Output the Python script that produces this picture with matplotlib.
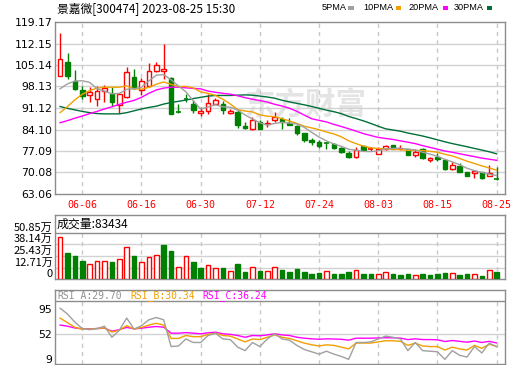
import matplotlib
matplotlib.use('Agg')
import matplotlib.pyplot as plt
from matplotlib.patches import Rectangle

# ---------------- data ----------------
dates = ['06-01', '06-02', '06-05', '06-06', '06-07', '06-08', '06-09', '06-12', '06-13', '06-14',
         '06-15', '06-16', '06-19', '06-20', '06-21', '06-26', '06-27', '06-28', '06-29', '06-30',
         '07-03', '07-04', '07-05', '07-06', '07-07', '07-10', '07-11', '07-12', '07-13', '07-14',
         '07-17', '07-18', '07-19', '07-20', '07-21', '07-24', '07-25', '07-26', '07-27', '07-28',
         '07-31', '08-01', '08-02', '08-03', '08-04', '08-07', '08-08', '08-09', '08-10', '08-11',
         '08-14', '08-15', '08-16', '08-17', '08-18', '08-21', '08-22', '08-23', '08-24', '08-25']
tick_dates = ['06-06', '06-16', '06-30', '07-12', '07-24', '08-03', '08-15', '08-25']

opens = [101.45, 106.22, 100.05, 97.10, 95.40, 93.90, 96.50, 95.74, 91.94, 94.86,
         101.35, 97.10, 98.43, 103.30, 103.30, 100.93, 90.00, 94.30, 92.50, 89.44,
         90.09, 92.50, 92.50, 89.44, 89.77, 85.35, 84.38, 86.52, 85.75, 87.30,
         87.60, 86.30, 85.22, 82.95, 80.58, 80.03, 79.83, 79.50, 78.08, 76.59,
         75.16, 78.73, 77.57, 76.27, 77.66, 78.96, 77.57, 77.66, 75.71, 77.66,
         73.99, 75.16, 74.09, 71.17, 72.24, 70.10, 69.87, 70.10, 69.00, 68.00]
highs = [115.53, 109.04, 103.60, 98.40, 97.90, 98.40, 98.66, 97.90, 95.90, 104.37,
         103.85, 100.80, 105.80, 106.20, 112.15, 101.35, 92.50, 95.74, 93.57, 91.40,
         95.74, 94.44, 93.34, 90.87, 90.32, 86.52, 88.14, 87.07, 87.07, 89.77,
         88.14, 87.80, 85.68, 83.08, 81.33, 80.58, 80.03, 79.83, 78.41, 77.01,
         78.41, 78.96, 78.41, 78.41, 79.19, 79.19, 78.96, 77.89, 77.66, 78.08,
         75.16, 76.59, 74.64, 73.54, 73.02, 70.20, 70.60, 70.20, 72.47, 71.72]
lows = [101.45, 100.60, 97.10, 94.10, 93.00, 91.90, 93.20, 91.90, 89.44, 94.30,
        97.36, 95.20, 97.90, 102.75, 100.60, 89.25, 89.44, 93.00, 89.44, 88.37,
        89.25, 92.27, 89.25, 89.00, 84.70, 84.38, 84.06, 84.20, 84.90, 86.52,
        84.38, 85.45, 82.43, 80.03, 79.19, 78.08, 77.89, 77.66, 76.59, 74.84,
        74.84, 77.20, 77.01, 76.10, 77.34, 77.66, 77.34, 75.71, 75.16, 74.64,
        73.54, 73.77, 71.00, 70.85, 70.10, 68.90, 68.35, 68.00, 68.90, 67.60]
closes = [107.09, 101.45, 97.36, 95.10, 96.25, 96.80, 97.55, 93.00, 95.74, 102.97,
          97.68, 100.05, 103.30, 105.15, 103.85, 89.25, 89.80, 94.00, 90.55, 90.09,
          92.69, 93.57, 90.55, 89.99, 85.45, 84.58, 87.07, 84.38, 86.16, 88.14,
          86.52, 85.70, 83.08, 80.58, 80.03, 78.73, 79.50, 78.08, 76.79, 75.16,
          77.34, 77.34, 77.89, 77.89, 78.63, 77.89, 77.89, 75.94, 76.79, 74.84,
          74.84, 74.32, 71.17, 72.47, 70.30, 68.99, 70.52, 68.15, 69.78, 67.90]

ma5 = [97.40, 99.00, 99.90, 100.00, 99.45, 97.39, 96.61, 95.74, 95.87, 97.21,
       97.39, 97.89, 99.95, 101.83, 102.01, 100.32, 98.27, 96.41, 93.49, 90.74,
       91.43, 92.18, 91.49, 91.38, 90.45, 88.83, 87.53, 86.29, 85.53, 86.07,
       86.45, 86.18, 85.92, 84.80, 83.18, 81.62, 80.38, 79.38, 78.63, 77.65,
       77.37, 76.94, 76.90, 77.12, 77.82, 77.93, 78.04, 77.65, 77.43, 76.67,
       76.06, 75.35, 74.39, 73.53, 72.62, 71.45, 70.69, 70.09, 69.55, 69.07]
ma10 = [89.60, 91.60, 93.80, 95.60, 96.80, 97.60, 97.90, 97.90, 97.90, 98.33,
        97.39, 97.25, 97.84, 98.85, 99.61, 98.85, 98.08, 98.18, 97.66, 96.37,
        95.87, 95.23, 93.95, 92.43, 90.59, 90.13, 89.85, 88.89, 88.45, 88.26,
        87.64, 86.85, 86.11, 85.17, 84.62, 84.04, 83.28, 82.65, 81.72, 80.42,
        79.50, 78.66, 78.14, 77.88, 77.74, 77.65, 77.49, 77.28, 77.28, 77.24,
        76.99, 76.69, 76.02, 75.48, 74.65, 73.76, 73.02, 72.24, 71.54, 70.84]
ma20 = [86.30, 87.00, 87.80, 88.50, 89.30, 90.00, 90.80, 91.50, 92.30, 93.00,
        93.60, 94.60, 95.90, 97.00, 97.60, 97.90, 97.90, 97.70, 97.50, 97.35,
        96.63, 96.24, 95.90, 95.64, 95.10, 94.49, 93.97, 93.54, 93.06, 92.32,
        91.76, 91.04, 90.03, 88.80, 87.61, 87.08, 86.57, 85.77, 85.08, 84.34,
        83.57, 82.76, 82.13, 81.52, 81.18, 80.85, 80.39, 79.96, 79.50, 78.83,
        78.25, 77.68, 77.08, 76.68, 76.19, 75.70, 75.25, 74.76, 74.41, 74.04]
ma30 = [91.60, 91.00, 90.50, 90.00, 89.60, 89.30, 89.20, 89.20, 89.20, 89.60,
        90.20, 90.80, 91.30, 91.70, 92.40, 92.90, 93.30, 93.70, 94.20, 94.60,
        95.00, 95.20, 95.20, 95.20, 95.30, 95.40, 95.30, 95.00, 94.70, 94.32,
        93.63, 93.11, 92.63, 92.15, 91.61, 91.01, 90.41, 89.91, 89.28, 88.35,
        87.67, 86.91, 86.07, 85.16, 84.32, 83.94, 83.54, 82.94, 82.48, 81.97,
        81.38, 80.74, 80.09, 79.51, 79.00, 78.48, 77.93, 77.39, 76.84, 76.17]

# volume in units of 万 (10k)
volumes = [45.8, 29.1, 25.5, 20.0, 16.7, 20.0, 20.0, 18.9, 22.2, 35.3,
           25.5, 18.6, 24.0, 26.6, 37.5, 30.9, 13.1, 25.5, 18.9, 12.4,
           15.6, 12.0, 12.4, 9.1, 16.7, 8.0, 13.8, 9.1, 8.7, 13.1,
           10.2, 8.0, 11.3, 8.0, 5.8, 6.9, 8.7, 5.8, 5.8, 8.0,
           9.8, 5.8, 5.8, 5.8, 8.0, 5.8, 4.7, 5.8, 4.4, 5.8,
           4.7, 5.8, 6.9, 6.5, 4.7, 5.8, 5.8, 3.6, 9.8, 8.3434]
vol_up = [1, 0, 0, 0, 1, 1, 1, 0, 1, 1,
          0, 1, 1, 1, 0, 0, 1, 1, 0, 0,
          1, 1, 0, 1, 0, 0, 1, 0, 1, 1,
          0, 0, 0, 0, 0, 0, 1, 0, 0, 0,
          1, 0, 0, 1, 1, 0, 0, 0, 1, 0,
          0, 0, 0, 1, 0, 0, 1, 0, 1, 0]

rsi_a = [96, 86, 72, 61, 59, 61, 65, 46, 58, 79,
         60, 66, 76, 80, 76, 30, 31, 43, 37, 37,
         49, 53, 43, 42, 29, 23, 37, 30, 43, 52,
         43, 41, 32, 25, 21, 17, 22, 17, 13, 8,
         37, 37, 38, 43, 48, 46, 43, 23, 37, 23,
         22, 21, 8, 23, 15, 12, 30, 19, 36, 29.70]
rsi_b = [79, 71, 63, 60, 60, 61, 62, 55, 58, 66,
         60, 63, 67, 70, 67, 44, 44, 49, 47, 47,
         51, 53, 49, 48, 43, 38, 43, 42, 46, 50,
         46, 44, 40, 36, 33, 31, 33, 32, 29, 26,
         36, 36, 36, 38, 40, 40, 39, 32, 36, 31,
         30, 30, 24, 29, 26, 24, 32, 27, 34, 30.34]
rsi_c = [67, 65, 62, 60.5, 60.5, 61, 61.6, 56.5, 59, 63,
         60.5, 61.6, 63.3, 64.5, 63.3, 53, 53, 54, 53, 52,
         53.7, 54.7, 52, 51, 49, 46, 49, 48.5, 50, 52,
         50, 49, 46, 44.4, 43.3, 42.5, 43.3, 43, 42.5, 41,
         44.4, 44.4, 44.4, 44.8, 45.2, 45, 44.5, 42, 43.3, 42,
         42, 41.6, 38.7, 40.4, 39, 37.5, 39.5, 37, 39, 36.24]

price_ticks = [63.06, 70.08, 77.09, 84.10, 91.12, 98.13, 105.14, 112.15, 119.17]
vol_ticks = [0, 12.71, 25.43, 38.14, 50.85]
rsi_ticks = [9, 52, 95]

# ---------------- style ----------------
RED = '#ff0000'
GREEN = '#008000'
C_MA5 = '#a0a0a0'
C_MA10 = '#f0a000'
C_MA20 = '#ff00ff'
C_MA30 = '#00703a'
FRAME = '#8c8c8c'
GRID = '#d2d2d2'
VGRID = '#c8c8c8'
CJK = ['Noto Sans CJK SC', 'DejaVu Sans']

W, H = 520, 365
fig = plt.figure(figsize=(W / 100, H / 100), dpi=100)
fig.patch.set_facecolor('white')


def rect(x0, y0, x1, y1):
    return [x0 / W, 1 - y1 / H, (x1 - x0) / W, (y1 - y0) / H]


n = len(dates)
xs = list(range(n))
xlim = (-0.69, 60.13)
tick_pos = [dates.index(d) for d in tick_dates]


def frame(ax):
    for s in ax.spines.values():
        s.set_color(FRAME)
        s.set_linewidth(1)
    ax.set_facecolor('white')
    ax.set_xlim(*xlim)


# ---------------- main price panel ----------------
ax = fig.add_axes(rect(55, 22, 505, 194))
frame(ax)
ax.set_ylim(price_ticks[0], price_ticks[-1])
for v in price_ticks[1:-1]:
    ax.axhline(v, color=GRID, lw=1, zorder=0.6)
for p in tick_pos:
    ax.axvline(p, color=VGRID, lw=1, ls=(0, (3, 3)), zorder=0.6)
ax.set_yticks(price_ticks)
ax.set_yticklabels(['%.2f' % v for v in price_ticks], fontsize=7.8, family='DejaVu Sans')
ax.set_xticks(tick_pos)
ax.set_xticklabels(tick_dates, fontsize=7.2, family='DejaVu Sans Mono', color=RED)
ax.tick_params(length=0, pad=2)
ax.tick_params(axis='x', pad=4)

# watermark
ax.text(0.555, 0.52, '东方财富', transform=ax.transAxes, ha='center', va='center',
        fontsize=22, family=CJK, color='#e4e4e4', fontweight='bold', zorder=0.5)

for i in xs:
    o, h, l, c = opens[i], highs[i], lows[i], closes[i]
    up = c >= o
    col = RED if up else GREEN
    ax.vlines(i, l, h, color=col, lw=1, zorder=2)
    bot = min(o, c)
    ht = abs(c - o)
    if ht < 0.35:
        ax.hlines(bot + ht / 2, i - 0.32, i + 0.32, color=col, lw=1.2, zorder=3)
    else:
        ax.bar(i, ht, bottom=bot, width=0.62, facecolor='white' if up else GREEN,
               edgecolor=col, linewidth=1, zorder=3)

ax.plot(xs, ma30, color=C_MA30, lw=1, zorder=4)
ax.plot(xs, ma20, color=C_MA20, lw=1, zorder=4)
ax.plot(xs, ma10, color=C_MA10, lw=1, zorder=4)
ax.plot(xs, ma5, color=C_MA5, lw=1, zorder=4)

# title and legend
fig.text(57 / W, 1 - 8.5 / H, '景嘉微[300474] 2023-08-25 15:30', fontsize=8.5,
         family=CJK, va='center', ha='left')
legend_items = [('5PMA', C_MA5, 322, 348), ('10PMA', C_MA10, 363, 395.5),
                ('20PMA', C_MA20, 408, 442.5), ('30PMA', C_MA30, 454, 486.5)]
for lab, col, tx, sx in legend_items:
    fig.text(tx / W, 1 - 8 / H, lab, fontsize=6.6, family='Liberation Sans',
             va='center', ha='left')
    fig.patches.append(Rectangle((sx / W, 1 - 9.5 / H), 5.5 / W, 3.5 / H,
                                 transform=fig.transFigure, facecolor=col,
                                 edgecolor='none'))

# ---------------- volume panel ----------------
axv = fig.add_axes(rect(55, 215, 505, 279.3))
frame(axv)
vtop = 70.2
axv.set_ylim(0, vtop)
axv.axhline(vol_ticks[-1], color=FRAME, lw=1, zorder=1)
for v in vol_ticks[1:-1]:
    axv.axhline(v, color=GRID, lw=1, zorder=0.6)
for p in tick_pos:
    axv.plot([p, p], [0, vol_ticks[-1]], color=VGRID, lw=1, ls=(0, (3, 3)), zorder=0.6)
for i in xs:
    up = vol_up[i] == 1
    col = RED if up else GREEN
    axv.bar(i, volumes[i], width=0.62, facecolor='white' if up else GREEN,
            edgecolor=col, linewidth=1, zorder=3)
axv.set_xticks([])
axv.set_yticks(vol_ticks)
axv.set_yticklabels(['0'] + ['%.2f万' % v for v in vol_ticks[1:]], fontsize=8, family=CJK)
for t in axv.get_yticklabels():
    t.set_va('bottom')
axv.tick_params(length=0, pad=1.5)
axv.text(2 / 450, (vtop + vol_ticks[-1]) / 2 / vtop, '成交量:%d' % round(volumes[-1] * 10000),
         transform=axv.transAxes, fontsize=8.6, family=CJK, va='center', ha='left')

# ---------------- RSI panel ----------------
axr = fig.add_axes(rect(55, 290, 505, 364))
frame(axr)
rtop = 127.3
rhead = 108.4
axr.set_ylim(0, rtop)
axr.axhline(rhead, color=FRAME, lw=1, zorder=1)
axr.axhline(52, color=GRID, lw=1, zorder=0.6)
for p in tick_pos:
    axr.plot([p, p], [0, rhead], color=VGRID, lw=1, ls=(0, (3, 3)), zorder=0.6)
axr.plot(xs, rsi_c, color=C_MA20, lw=1, zorder=3)
axr.plot(xs, rsi_b, color=C_MA10, lw=1, zorder=3)
axr.plot(xs, rsi_a, color=C_MA5, lw=1, zorder=3)
axr.set_xticks([])
axr.set_yticks(rsi_ticks)
axr.set_yticklabels([str(v) for v in rsi_ticks], fontsize=7.8, family='DejaVu Sans')
axr.tick_params(length=0, pad=2)
hy = (rtop + rhead) / 2 / rtop
for lab, val, col, px in [('RSI_A', rsi_a[-1], '#909090', 57.5), ('RSI_B', rsi_b[-1], '#f0a000', 130),
                          ('RSI_C', rsi_c[-1], '#ff00ff', 202.5)]:
    axr.text((px - 55) / 450, hy, '%s:%.2f' % (lab, val), transform=axr.transAxes,
             fontsize=7, family='DejaVu Sans Mono', color=col, va='center', ha='left')

fig.savefig('out.png', dpi=100, facecolor='white')
